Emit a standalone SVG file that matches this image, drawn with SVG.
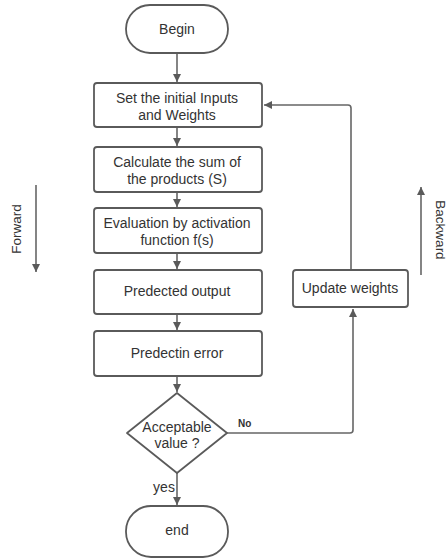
<svg xmlns="http://www.w3.org/2000/svg" width="447" height="559" viewBox="0 0 447 559">
<defs>
<style>
.n{fill:#fff;stroke:#5a5a5a;stroke-width:1.8}
.t{font-family:"Liberation Sans",Arial,sans-serif;font-size:14px;fill:#333;text-anchor:middle}
.s{font-size:13.5px}
.c{fill:none;stroke:#666;stroke-width:1.6}
.lb{font-family:"Liberation Sans",Arial,sans-serif;font-size:10px;font-weight:bold;fill:#333}
</style>
<marker id="a" viewBox="0 0 10 10" refX="10" refY="5" markerWidth="8" markerHeight="8" markerUnits="userSpaceOnUse" orient="auto">
<path d="M0,0 L10,5 L0,10 Z" fill="#5a5a5a"/>
</marker>
</defs>
<rect width="447" height="559" fill="#fff"/>
<g id="connectors">
<path class="c" d="M177,53 V82" marker-end="url(#a)"/>
<path class="c" d="M177,127 V146" marker-end="url(#a)"/>
<path class="c" d="M177,192 V207" marker-end="url(#a)"/>
<path class="c" d="M177,253 V269" marker-end="url(#a)"/>
<path class="c" d="M177,314 V330" marker-end="url(#a)"/>
<path class="c" d="M177,376 V392" marker-end="url(#a)"/>
<path class="c" d="M177,473 V505" marker-end="url(#a)"/>
<path class="c" d="M227,433 H350 Q353,433 353,430 V309" marker-end="url(#a)"/>
<path class="c" d="M351,270 V108 Q351,105 348,105 H264" marker-end="url(#a)"/>
<path class="c" d="M36,185 V272" marker-end="url(#a)"/>
<path class="c" d="M421,275 V187" marker-end="url(#a)"/>
<text class="lb" x="238" y="427">No</text>
<text class="t" x="164" y="492">yes</text>
<text class="t s" x="0" y="0" transform="translate(21,229) rotate(-90)">Forward</text>
<text class="t s" x="0" y="0" transform="translate(436,230) rotate(90)">Backward</text>
</g>
<g id="begin"><rect class="n" x="126" y="5" width="102" height="48" rx="24"/><text class="t" x="177" y="34">Begin</text></g>
<g id="set"><rect class="n" x="94" y="83" width="168" height="44" rx="3"/><text class="t" x="177" y="103">Set the initial Inputs</text><text class="t" x="177" y="120">and Weights</text></g>
<g id="calc"><rect class="n" x="94" y="147" width="168" height="45" rx="3"/><text class="t" x="177" y="167">Calculate the sum of</text><text class="t" x="177" y="184">the products (S)</text></g>
<g id="eval"><rect class="n" x="94" y="208" width="168" height="45" rx="3"/><text class="t" x="177" y="228">Evaluation by activation</text><text class="t" x="177" y="245">function f(s)</text></g>
<g id="output"><rect class="n" x="94" y="270" width="168" height="44" rx="3"/><text class="t" x="177" y="296">Predected output</text></g>
<g id="error"><rect class="n" x="94" y="331" width="168" height="45" rx="3"/><text class="t" x="177" y="358">Predectin error</text></g>
<g id="decision"><path class="n" d="M177,393 L227,433 L177,473 L127,433 Z" stroke-linejoin="round"/><text class="t" x="177" y="432">Acceptable</text><text class="t" x="177" y="448">value ?</text></g>
<g id="end"><rect class="n" x="126" y="506" width="102" height="51" rx="25"/><text class="t" x="177" y="535">end</text></g>
<g id="update"><rect class="n" x="293" y="270" width="115" height="37" rx="3"/><text class="t" x="350" y="293">Update weights</text></g>
</svg>
